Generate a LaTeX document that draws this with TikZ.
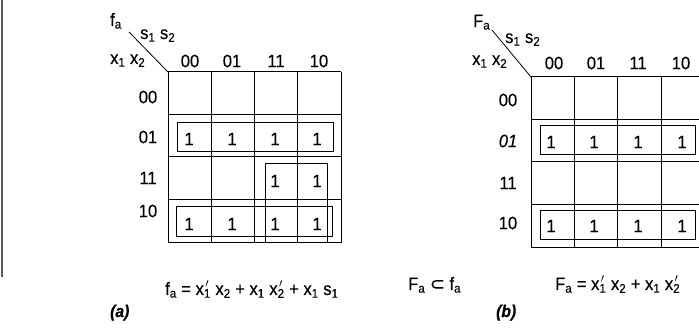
\documentclass[tikz,border=0pt]{standalone}
\usepackage{fontspec}
\setmainfont[FakeStretch=0.92,FakeBold=0.4]{Liberation Sans}
\newfontfamily\symfont[FakeBold=0.4]{DejaVu Sans}
\newcommand\sbs[1]{\textsubscript{#1}}
\newcommand\sbp[1]{\rlap{\kern1.5pt\raisebox{1pt}{$^{\prime}$}}\textsubscript{#1}}
\begin{document}
\begin{tikzpicture}[x=1pt,y=-1pt,
  font=\fontsize{18}{21}\selectfont,
  lbl/.style={inner sep=0pt},
  txt/.style={inner sep=0pt,anchor=base west},
  gridline/.style={line width=1pt},
  loopbox/.style={line width=0.8pt},
  caption/.style={inner sep=0pt,anchor=base west,font=\fontsize{17}{20}\selectfont\bfseries\itshape}]
\useasboundingbox (0,0) rectangle (699,328);
\clip (0,0) rectangle (699,328);
% scan edge
\coordinate (e1) at (1.5,0);
\coordinate (e2) at (1.5,277);
\draw[line width=2pt,black!65] (e1) -- (e2);

% ---------- (a) ----------
\foreach \x in {168,211,254,297,341} \draw[gridline] (\x,72) -- (\x,243);
\foreach \y in {72,115,157,200,243} \draw[gridline] (168,\y) -- (341,\y);
\coordinate (acorner) at (168,72);
\coordinate (adiag) at (129,32);
\draw[line width=0.8pt] (adiag) -- (acorner);
\node[txt] (afa) at (110,26) {f\sbs{a}};
\node[txt] (as) at (140,39) {s\sbs{1} s\sbs{2}};
\node[txt] (ax) at (110,64) {x\sbs{1} x\sbs{2}};
\foreach \t/\x in {00/190,01/232,11/276,10/319}
  \node[lbl] (ac\t) at (\x,61) {\t};
\foreach \t/\y in {00/97,01/137,11/178,10/211}
  \node[lbl] (ar\t) at (148,\y) {\t};
\foreach \c/\x in {0/189,1/232,2/275,3/317} {
  \node[lbl] (aone1\c) at (\x,139) {1};
  \node[lbl] (aone3\c) at (\x,224) {1};
}
\node[lbl] (aone22) at (275,181) {1};
\node[lbl] (aone23) at (317,181) {1};
\draw[loopbox] (177,122) rectangle (333,151);
\draw[loopbox] (176,206) rectangle (332,236);
\draw[loopbox] (265,163) rectangle (327,242);
\node[txt] (aform) at (165,295) {f\sbs{a} = x\sbp{1} x\sbs{2} + x\sbs{1} x\sbp{2} + x\sbs{1} s\sbs{1}};
\node[caption] (acap) at (110,317) {(a)};

% ---------- (b) ----------
\foreach \x in {531,574,617,661,704} \draw[gridline] (\x,77) -- (\x,248);
\foreach \y in {77,120,162,205,248} \draw[gridline] (531,\y) -- (704,\y);
\coordinate (bcorner) at (531,77);
\coordinate (bdiag) at (492,30);
\draw[line width=0.8pt] (bdiag) -- (bcorner);
\node[txt] (bFa) at (473,27) {F\sbs{a}};
\node[txt] (bs) at (505,43) {s\sbs{1} s\sbs{2}};
\node[txt] (bx) at (472,65) {x\sbs{1} x\sbs{2}};
\foreach \t/\x in {00/554,01/596,11/638,10/681}
  \node[lbl] (bc\t) at (\x,63) {\t};
\node[lbl] (br00) at (508,100) {00};
\node[lbl] (br01) at (508,141) {\itshape 01};
\node[lbl] (br11) at (508,183) {11};
\node[lbl] (br10) at (508,223) {10};
\foreach \c/\x in {0/551,1/594,2/638,3/682} {
  \node[lbl] (bone1\c) at (\x,142) {1};
  \node[lbl] (bone3\c) at (\x,226) {1};
}
\draw[loopbox] (540,125) rectangle (695,154);
\draw[loopbox] (540,210) rectangle (695,239);
\node[txt] (bsub) at (408,290) {F\sbs{a} {\symfont ⊂} f\sbs{a}};
\node[txt] (bform) at (555,290) {F\sbs{a} = x\sbp{1} x\sbs{2} + x\sbs{1} x\sbp{2}};
\node[caption] (bcap) at (496,317) {(b)};
\end{tikzpicture}
\end{document}
